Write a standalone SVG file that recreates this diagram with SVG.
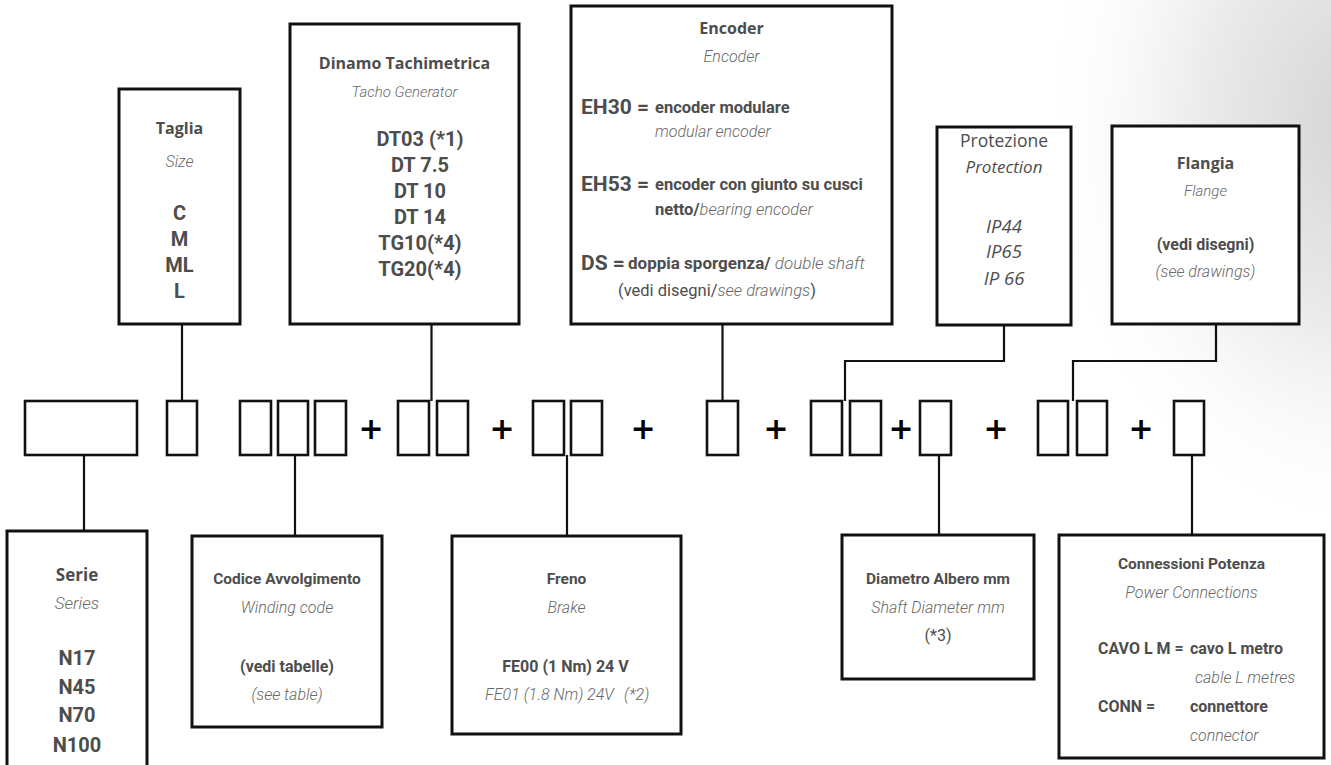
<svg xmlns="http://www.w3.org/2000/svg" width="1331" height="765" viewBox="0 0 1331 765">
<defs>
<radialGradient id="shade" cx="1360" cy="120" r="330" gradientUnits="userSpaceOnUse" gradientTransform="translate(1360 120) scale(1 1.3) translate(-1360 -120)">
<stop offset="0" stop-color="#d4d4d4"/>
<stop offset="0.5" stop-color="#ececec"/>
<stop offset="1" stop-color="#ffffff" stop-opacity="0"/>
</radialGradient>
<style>
.box{fill:#fff;stroke:#111;stroke-width:3}
.sb{fill:#fff;stroke:#111;stroke-width:2.6}
.con{fill:none;stroke:#111;stroke-width:2.2}
text{fill:#4d4d4d}
.t{font-family:"Open Sans","Noto Sans",sans-serif;font-weight:700;font-size:16px;text-anchor:middle}
.r{font-family:"Open Sans","Noto Sans",sans-serif;font-size:17.5px;text-anchor:middle}
.oi{font-family:"Open Sans","Noto Sans",sans-serif;font-style:italic;text-anchor:middle}
.i{font-family:Roboto,"Noto Sans",sans-serif;font-style:italic;font-weight:300;font-size:16px;fill:#686868}
.c{text-anchor:middle}
.b{font-family:Roboto,"Noto Sans",sans-serif;font-weight:700;font-size:16px}
.bi{font-family:Roboto,"Noto Sans",sans-serif;font-weight:700;font-size:20px}
.rr{font-family:Roboto,"Noto Sans",sans-serif;font-weight:400;font-size:16px}
.plus{font-family:"DejaVu Sans",sans-serif;font-weight:700;font-size:30px;text-anchor:middle;fill:#000}
</style>
</defs>
<rect width="1331" height="765" fill="#fff"/>
<rect x="960" y="0" width="371" height="520" fill="url(#shade)"/>

<g id="connectors">
<path class="con" d="M182 324V401"/>
<path class="con" d="M431.5 324V401"/>
<path class="con" d="M722.5 324V401"/>
<path class="con" d="M1004 325V361H845V401"/>
<path class="con" d="M1216 324V361H1073V401"/>
<path class="con" d="M84 455V531"/>
<path class="con" d="M295 455V536"/>
<path class="con" d="M567 455V536"/>
<path class="con" d="M939 455V535"/>
<path class="con" d="M1192 455V535"/>
</g>

<g id="code-row">
<rect class="sb" x="25" y="401" width="112" height="54"/>
<rect class="sb" x="167" y="401" width="30" height="54"/>
<rect class="sb" x="240" y="401" width="31" height="54"/>
<rect class="sb" x="278" y="401" width="30" height="54"/>
<rect class="sb" x="315" y="401" width="31" height="54"/>
<text class="plus" x="371" y="439">+</text>
<rect class="sb" x="398" y="401" width="31" height="54"/>
<rect class="sb" x="437" y="401" width="31" height="54"/>
<text class="plus" x="502" y="439">+</text>
<rect class="sb" x="533" y="401" width="31" height="54"/>
<rect class="sb" x="571" y="401" width="31" height="54"/>
<text class="plus" x="643" y="439">+</text>
<rect class="sb" x="707" y="401" width="31" height="54"/>
<text class="plus" x="776" y="439">+</text>
<rect class="sb" x="811" y="401" width="31" height="54"/>
<rect class="sb" x="850" y="401" width="31" height="54"/>
<text class="plus" x="901" y="439">+</text>
<rect class="sb" x="920" y="401" width="31" height="54"/>
<text class="plus" x="996" y="439">+</text>
<rect class="sb" x="1038" y="401" width="30" height="54"/>
<rect class="sb" x="1077" y="401" width="30" height="54"/>
<text class="plus" x="1141" y="439">+</text>
<rect class="sb" x="1174" y="401" width="30" height="54"/>
</g>

<g id="taglia">
<rect class="box" x="119" y="89" width="121" height="235"/>
<text class="t" x="179.5" y="134">Taglia</text>
<text class="i c" x="179.5" y="167">Size</text>
<text class="bi c" x="179.5" y="220">C</text>
<text class="bi c" x="179.5" y="246">M</text>
<text class="bi c" x="179.5" y="272">ML</text>
<text class="bi c" x="179.5" y="298">L</text>
</g>

<g id="dinamo">
<rect class="box" x="290" y="24" width="229" height="300"/>
<text class="t" x="404.5" y="69">Dinamo Tachimetrica</text>
<text class="i c" x="404.5" y="97" style="font-size:15px">Tacho Generator</text>
<text class="bi c" x="420" y="146">DT03 (*1)</text>
<text class="bi c" x="420" y="172">DT 7.5</text>
<text class="bi c" x="420" y="198">DT 10</text>
<text class="bi c" x="420" y="224">DT 14</text>
<text class="bi c" x="420" y="250">TG10(*4)</text>
<text class="bi c" x="420" y="276">TG20(*4)</text>
</g>

<g id="encoder">
<rect class="box" x="571" y="6" width="321" height="318"/>
<text class="t" x="731.5" y="34">Encoder</text>
<text class="i c" x="731.5" y="62">Encoder</text>
<text class="bi" x="581" y="114" style="font-size:21px">EH30 =</text>
<text class="b" x="655" y="113" style="font-size:16.5px">encoder modulare</text>
<text class="i" x="655" y="137">modular encoder</text>
<text class="bi" x="581" y="191" style="font-size:21px">EH53 =</text>
<text class="b" x="655" y="190" style="font-size:16.5px">encoder con giunto su cusci</text>
<text class="b" x="655" y="215" style="font-size:16.5px">netto/<tspan class="i" style="font-size:16.5px">bearing encoder</tspan></text>
<text class="bi" x="581" y="270" style="font-size:21px">DS =</text>
<text class="b" x="628" y="269" style="font-size:17px">doppia sporgenza/ <tspan class="i" style="font-size:17px">double shaft</tspan></text>
<text class="rr" x="618" y="296" style="font-size:16.5px">(vedi disegni/<tspan class="i" style="font-size:16.5px">see drawings</tspan>)</text>
</g>

<g id="protezione">
<rect class="box" x="937" y="127" width="134" height="198"/>
<text class="r" x="1004" y="147">Protezione</text>
<text class="oi" x="1004" y="173" style="font-size:17px">Protection</text>
<text class="oi" x="1004" y="233" style="font-size:18.5px">IP44</text>
<text class="oi" x="1004" y="258" style="font-size:18.5px">IP65</text>
<text class="oi" x="1004" y="285" style="font-size:18.5px">IP 66</text>
</g>

<g id="flangia">
<rect class="box" x="1112" y="126" width="187" height="198"/>
<text class="t" x="1205.5" y="169">Flangia</text>
<text class="i c" x="1205.5" y="196" style="font-size:15px">Flange</text>
<text class="b c" x="1205.5" y="250">(vedi disegni)</text>
<text class="i c" x="1205.5" y="277">(see drawings)</text>
</g>

<g id="serie">
<rect class="box" x="7" y="531" width="140" height="250"/>
<text class="t" x="77" y="581" style="font-size:17px">Serie</text>
<text class="i c" x="77" y="609" style="font-size:17px">Series</text>
<text class="bi c" x="77" y="665">N17</text>
<text class="bi c" x="77" y="694">N45</text>
<text class="bi c" x="77" y="722">N70</text>
<text class="bi c" x="77" y="752">N100</text>
</g>

<g id="avvolgimento">
<rect class="box" x="192" y="536" width="190" height="191"/>
<text class="b c" x="287" y="584" style="font-size:15.5px">Codice Avvolgimento</text>
<text class="i c" x="287" y="613">Winding code</text>
<text class="b c" x="287" y="672">(vedi tabelle)</text>
<text class="i c" x="287" y="700">(see table)</text>
</g>

<g id="freno">
<rect class="box" x="452" y="536" width="229" height="198"/>
<text class="b c" x="566.5" y="584" style="font-size:15.5px">Freno</text>
<text class="i c" x="566.5" y="613">Brake</text>
<text class="b c" x="565.5" y="672">FE00 (1 Nm) 24 V</text>
<text class="i" x="485" y="700">FE01 (1.8 Nm) 24V</text>
<text class="i" x="624" y="700">(*2)</text>
</g>

<g id="diametro">
<rect class="box" x="842" y="535" width="192" height="144"/>
<text class="b c" x="938" y="584" style="font-size:15.5px">Diametro Albero mm</text>
<text class="i c" x="938" y="613">Shaft Diameter mm</text>
<text class="rr c" x="938" y="641">(*3)</text>
</g>

<g id="connessioni">
<rect class="box" x="1059" y="535" width="265" height="223"/>
<text class="b c" x="1191.5" y="569" style="font-size:15.5px">Connessioni Potenza</text>
<text class="i c" x="1191.5" y="598">Power Connections</text>
<text class="b" x="1098" y="654">CAVO L M =</text>
<text class="b" x="1190" y="654">cavo L metro</text>
<text class="i" x="1195" y="683">cable L metres</text>
<text class="b" x="1098" y="712">CONN =</text>
<text class="b" x="1190" y="712">connettore</text>
<text class="i" x="1190" y="741">connector</text>
</g>
</svg>
